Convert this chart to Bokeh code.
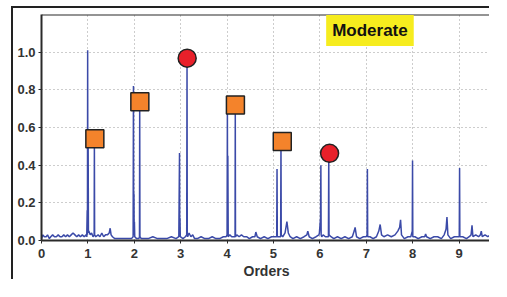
from bokeh.plotting import figure
from bokeh.models import Range1d, FixedTicker, Label, Span
from bokeh.embed import file_html
from bokeh.resources import INLINE

# ---- data ----
x_ticks = [0, 1, 2, 3, 4, 5, 6, 7, 8, 9]
y_ticks = [0.0, 0.2, 0.4, 0.6, 0.8, 1.0]
y_tick_labels = ["0.0", "0.2", "0.4", "0.6", "0.8", "1.0"]

spectrum = [
    (0.00, 0.01), (0.03, 0.03), (0.06, 0.02), (0.10, 0.02), (0.13, 0.03), (0.17, 0.01), (0.20, 0.02),
    (0.24, 0.03), (0.28, 0.02), (0.32, 0.02), (0.36, 0.03), (0.40, 0.02), (0.44, 0.02), (0.48, 0.03),
    (0.52, 0.02), (0.56, 0.03), (0.60, 0.02), (0.64, 0.03), (0.68, 0.04), (0.72, 0.03), (0.76, 0.02),
    (0.80, 0.03), (0.84, 0.02), (0.88, 0.03), (0.92, 0.02), (0.96, 0.03),
    (0.975, 0.02), (0.985, 0.16), (0.99, 0.03), (0.995, 1.01), (1.0, 0.05), (1.005, 0.55), (1.012, 0.04),
    (1.02, 0.05), (1.05, 0.03), (1.08, 0.04), (1.11, 0.02), (1.135, 0.03), (1.14, 0.53), (1.145, 0.03),
    (1.17, 0.02), (1.22, 0.03), (1.26, 0.02), (1.30, 0.04), (1.34, 0.02), (1.38, 0.03), (1.42, 0.03),
    (1.46, 0.04), (1.48, 0.065), (1.50, 0.03), (1.53, 0.02), (1.58, 0.01), (1.64, 0.01), (1.70, 0.01),
    (1.76, 0.01), (1.82, 0.01), (1.88, 0.01), (1.94, 0.01),
    (1.975, 0.02), (1.982, 0.82), (1.988, 0.03), (1.993, 0.25), (1.998, 0.03), (2.003, 0.10), (2.01, 0.02),
    (2.05, 0.01), (2.10, 0.01), (2.112, 0.02), (2.117, 0.73), (2.122, 0.02), (2.15, 0.01), (2.22, 0.01),
    (2.30, 0.01), (2.40, 0.02), (2.50, 0.01), (2.60, 0.01), (2.70, 0.01), (2.80, 0.02), (2.90, 0.01),
    (2.96, 0.02),
    (2.975, 0.465), (2.98, 0.02), (2.985, 0.12), (2.992, 0.02), (3.05, 0.01), (3.10, 0.02), (3.13, 0.03),
    (3.137, 0.95), (3.142, 0.03), (3.15, 0.02), (3.18, 0.04), (3.22, 0.02), (3.26, 0.03), (3.30, 0.01),
    (3.36, 0.01), (3.44, 0.02), (3.52, 0.01), (3.60, 0.01), (3.68, 0.02), (3.76, 0.01), (3.84, 0.01),
    (3.92, 0.02), (3.98, 0.02),
    (4.0, 0.03), (4.007, 0.70), (4.012, 0.03), (4.017, 0.45), (4.025, 0.02), (4.06, 0.03), (4.10, 0.02),
    (4.15, 0.02), (4.172, 0.02), (4.177, 0.71), (4.182, 0.02), (4.21, 0.03), (4.26, 0.02), (4.31, 0.03),
    (4.36, 0.02), (4.42, 0.02), (4.48, 0.01), (4.55, 0.02), (4.60, 0.02), (4.62, 0.045), (4.65, 0.02),
    (4.72, 0.01), (4.80, 0.02), (4.88, 0.01), (4.96, 0.02), (5.03, 0.02),
    (5.07, 0.02), (5.077, 0.38), (5.083, 0.02), (5.11, 0.02), (5.155, 0.02), (5.162, 0.52), (5.168, 0.03),
    (5.20, 0.02), (5.25, 0.04), (5.29, 0.10), (5.32, 0.04), (5.36, 0.02), (5.42, 0.01), (5.50, 0.02),
    (5.58, 0.01), (5.66, 0.02), (5.72, 0.03), (5.74, 0.05), (5.77, 0.02), (5.84, 0.01), (5.92, 0.02),
    (5.98, 0.03), (5.99, 0.04),
    (6.015, 0.12), (6.022, 0.40), (6.028, 0.03), (6.04, 0.02), (6.07, 0.03), (6.12, 0.02), (6.185, 0.02),
    (6.192, 0.45), (6.198, 0.03), (6.24, 0.02), (6.30, 0.01), (6.38, 0.02), (6.46, 0.01), (6.54, 0.02),
    (6.62, 0.01), (6.70, 0.02), (6.74, 0.05), (6.76, 0.07), (6.79, 0.02), (6.86, 0.01), (6.94, 0.02),
    (7.0, 0.02),
    (7.018, 0.03), (7.025, 0.38), (7.031, 0.02), (7.08, 0.02), (7.15, 0.01), (7.22, 0.02), (7.27, 0.05),
    (7.30, 0.085), (7.33, 0.03), (7.38, 0.02), (7.46, 0.03), (7.54, 0.02), (7.62, 0.03), (7.68, 0.05),
    (7.72, 0.07), (7.74, 0.11), (7.76, 0.03), (7.82, 0.01), (7.90, 0.02), (7.96, 0.02),
    (7.992, 0.05), (7.998, 0.425), (8.004, 0.02), (8.05, 0.02), (8.12, 0.01), (8.20, 0.02), (8.26, 0.02),
    (8.28, 0.035), (8.30, 0.02), (8.38, 0.01), (8.46, 0.02), (8.54, 0.02), (8.62, 0.01), (8.68, 0.03),
    (8.72, 0.06), (8.74, 0.125), (8.76, 0.03), (8.82, 0.01), (8.90, 0.02), (8.96, 0.02),
    (9.005, 0.02), (9.012, 0.385), (9.018, 0.02), (9.08, 0.02), (9.16, 0.01), (9.22, 0.02), (9.26, 0.03),
    (9.28, 0.08), (9.30, 0.02), (9.36, 0.03), (9.42, 0.02), (9.46, 0.03), (9.48, 0.05), (9.50, 0.02),
    (9.56, 0.03), (9.62, 0.02), (9.68, 0.03), (9.74, 0.04), (9.76, 0.06), (9.78, 0.02), (9.84, 0.01),
    (9.90, 0.02), (9.97, 0.01),
]

square_x = [1.15, 2.12, 4.18, 5.19]
square_y = [0.54, 0.737, 0.72, 0.526]
circle_x = [3.14, 6.21]
circle_y = [0.968, 0.463]

badge_text = "Moderate"
badge_x = 7.08
badge_y = 1.115

FONT = "Liberation Sans"

p = figure(width=478, height=273, x_range=Range1d(0, 9.7), y_range=Range1d(0, 1.2),
           output_backend="svg", toolbar_location=None,
           min_border_left=28, min_border_right=0, min_border_top=6, min_border_bottom=30)
p.margin = (6, 0, 0, 11)
p.styles = {"border-left": "2px solid #222", "border-top": "2px solid #222"}
p.outline_line_color = None
p.background_fill_color = "white"
p.border_fill_color = "white"

# grids
p.xgrid.ticker = FixedTicker(ticks=x_ticks)
p.ygrid.ticker = FixedTicker(ticks=y_ticks)
for g in (p.xgrid, p.ygrid):
    g.grid_line_color = "#9a9a9a"
    g.grid_line_dash = "1 3"
    g.grid_line_width = 1

# axes
p.xaxis.ticker = FixedTicker(ticks=x_ticks)
p.yaxis.ticker = FixedTicker(ticks=y_ticks)
p.yaxis.major_label_overrides = {t: s for t, s in zip(y_ticks, y_tick_labels)}
for ax in (p.xaxis[0], p.yaxis[0]):
    ax.axis_line_color = "#2a2a2a"
    ax.axis_line_width = 2
    ax.major_tick_line_color = "#2a2a2a"
    ax.major_tick_in = 0
    ax.major_tick_out = 3
    ax.minor_tick_line_color = None
    ax.major_label_text_font = FONT
    ax.major_label_text_font_style = "bold"
    ax.major_label_text_font_size = "13px"
    ax.major_label_text_color = "#333333"
p.yaxis.major_label_standoff = 3
p.xaxis.major_label_standoff = 5
p.xaxis.axis_label = "Orders"
p.xaxis.axis_label_text_font = FONT
p.xaxis.axis_label_text_font_style = "bold"
p.xaxis.axis_label_text_font_size = "14px"
p.xaxis.axis_label_text_color = "#333333"
p.xaxis.axis_label_standoff = 2

# top frame line
p.add_layout(Span(location=1.2, dimension="width", line_color="#2a2a2a", line_width=2))

# spectrum
sx = [pt[0] for pt in spectrum]
sy = [pt[1] for pt in spectrum]
p.line(sx, sy, line_color="#3b4aa8", line_width=1.5)

# markers
p.scatter(square_x, square_y, marker="square", size=18, fill_color="#f4832b",
          line_color="#222222", line_width=1.5)
p.scatter(circle_x, circle_y, marker="circle", size=18, fill_color="#e8202a",
          line_color="#222222", line_width=1.5)

badge = Label(x=badge_x, y=badge_y, text=badge_text, text_align="center", text_baseline="middle",
              text_font=FONT, text_font_style="bold", text_font_size="17px", text_color="#111111",
              background_fill_color="#f6ec1e", padding=6)
p.add_layout(badge)

open("out.html", "w").write(file_html(p, INLINE))
